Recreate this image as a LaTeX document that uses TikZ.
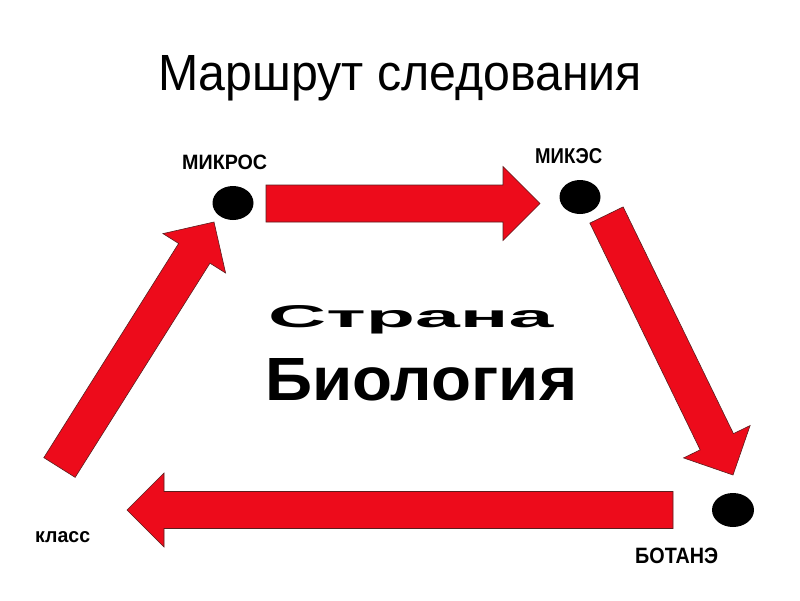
\documentclass[tikz,border=0pt]{standalone}
\usepackage{fontspec}
\setmainfont{Liberation Sans}
\usetikzlibrary{calc}
\definecolor{arrowred}{RGB}{237,11,27}
\definecolor{arrowedge}{RGB}{90,30,30}
\newcommand\myblockarrow[2]{%
  \coordinate (#1-#2-h) at ($(#2)!37pt!(#1)$);
  \path[blockarrow]
    ($(#1)!18.5pt!90:(#2)$) --
    ($(#1-#2-h)!18.5pt!90:(#2)$) --
    ($(#1-#2-h)!37pt!90:(#2)$) --
    (#2) --
    ($(#1-#2-h)!37pt!-90:(#2)$) --
    ($(#1-#2-h)!18.5pt!-90:(#2)$) --
    ($(#1)!18.5pt!-90:(#2)$) -- cycle;}
\begin{document}
\begin{tikzpicture}[x=1pt,y=-1pt,
  blockarrow/.style={fill=arrowred,draw=arrowedge,line width=0.6pt,line join=miter},
  dot/.style={fill=black,draw=none,ellipse},
  lbl/.style={anchor=base west,inner sep=0pt,font=\bfseries},
  txt/.style={anchor=base west,inner sep=0pt}]
\useasboundingbox (0,0) rectangle (800,600);
\fill[white] (0,0) rectangle (800,600);

% title and central text
\node[txt] (title) at (158,90) {\resizebox{484pt}{35pt}{Маршрут следования}};
\node[lbl] (strana) at (268,327) {\resizebox{285pt}{22pt}{Страна}};
\node[lbl] (bio) at (265,400) {\resizebox{312pt}{42pt}{Биология}};

% station labels
\node[lbl] (lmikros) at (182,169) {\resizebox{85pt}{14.5pt}{МИКРОС}};
\node[lbl] (lmikes) at (535,163) {\resizebox{67pt}{15pt}{МИКЭС}};
\node[lbl] (lbotane) at (635,563) {\resizebox{83pt}{15.5pt}{БОТАНЭ}};
\node[lbl] (lklass) at (35,542) {\resizebox{55pt}{11pt}{класс}};

% dots
\fill (233,203) ellipse [x radius=20.5, y radius=17];
\fill (580,197) ellipse [x radius=20.5, y radius=17];
\fill (733,510) ellipse [x radius=21, y radius=17];

% arrow end points
\coordinate (a1t) at (266,203.5);
\coordinate (a1p) at (540,203.5);
\coordinate (a2t) at (606.5,215);
\coordinate (a2p) at (733,475);
\coordinate (a3t) at (673,510);
\coordinate (a3p) at (127,510);
\coordinate (a4t) at (59.5,467.5);
\coordinate (a4p) at (214,222);

\myblockarrow{a1t}{a1p}
\myblockarrow{a2t}{a2p}
\myblockarrow{a3t}{a3p}
\myblockarrow{a4t}{a4p}
\end{tikzpicture}
\end{document}
